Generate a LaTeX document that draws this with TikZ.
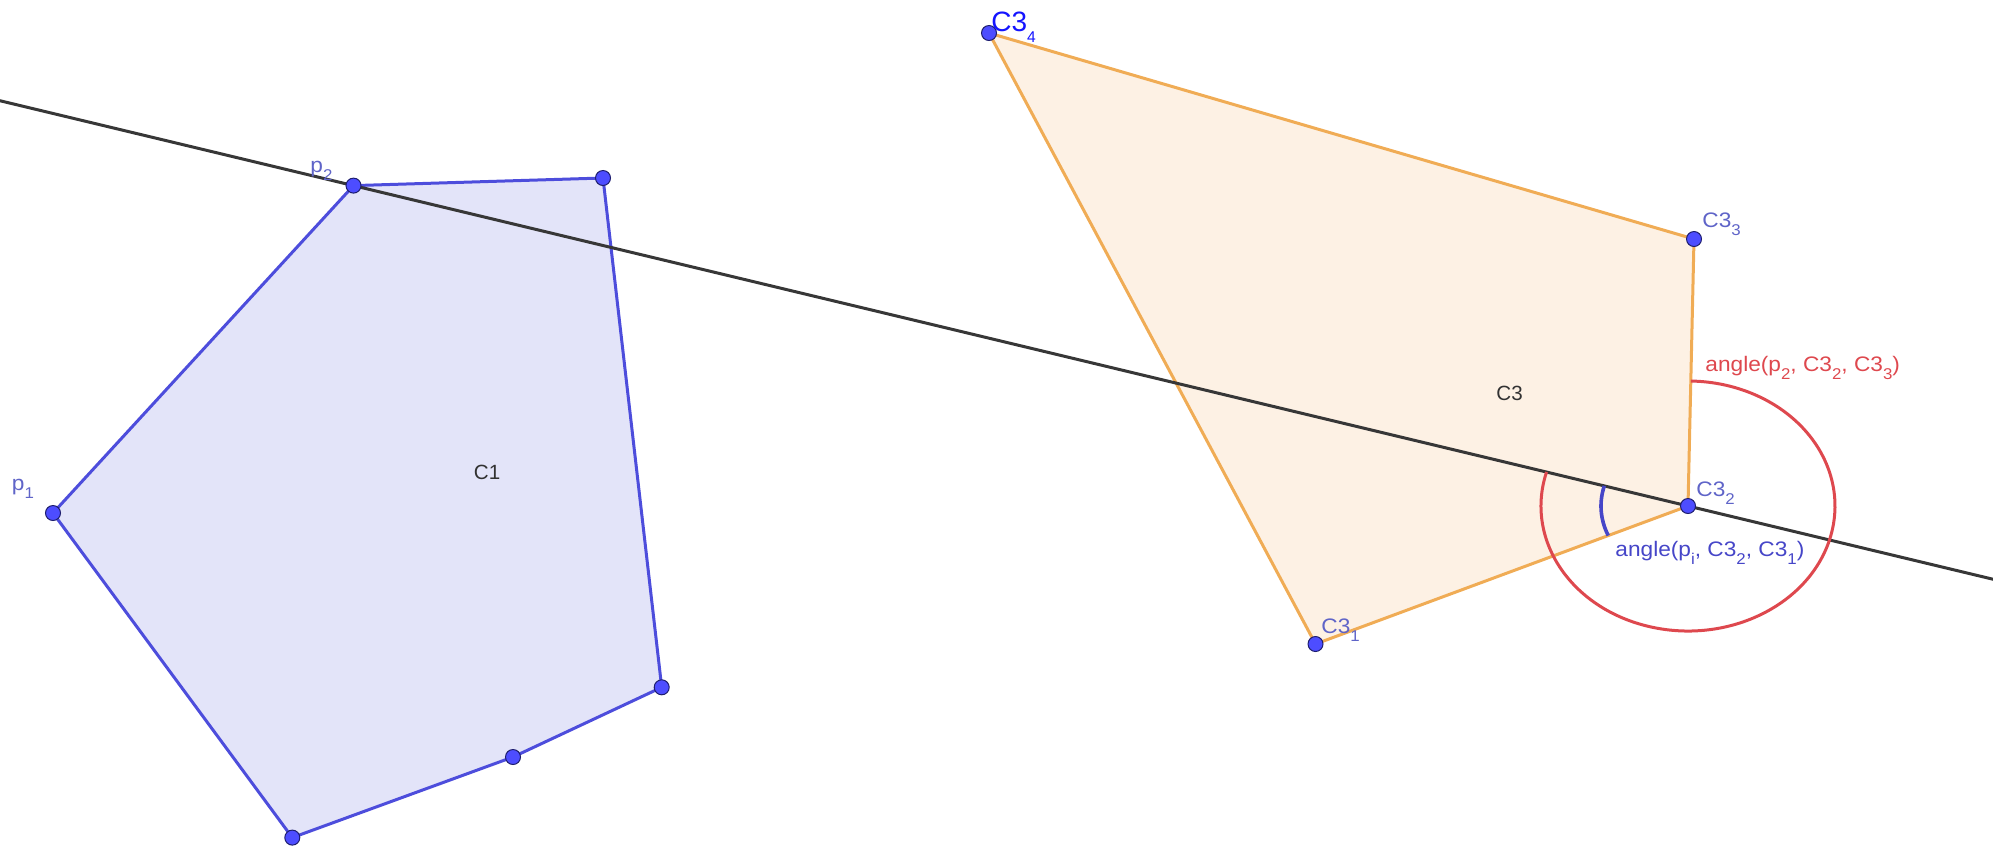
\documentclass[tikz,border=0pt]{standalone}
\usepackage{fontspec}
\setmainfont{Liberation Sans}
\usetikzlibrary{calc}
\definecolor{polyblue}{RGB}{77,77,220}
\definecolor{fillblue}{RGB}{227,228,249}
\definecolor{ptblue}{RGB}{77,77,255}
\definecolor{ptedge}{RGB}{30,30,110}
\definecolor{lblblue}{RGB}{95,100,200}
\definecolor{orangeline}{RGB}{240,172,85}
\definecolor{orangefill}{RGB}{253,241,228}
\definecolor{arcred}{RGB}{222,72,78}
\definecolor{arcblue}{RGB}{70,70,200}
\definecolor{linegray}{RGB}{55,55,55}
\definecolor{purelabel}{RGB}{20,20,255}
\definecolor{textgray}{RGB}{50,50,50}
\newcommand\lsub[1]{\raisebox{-4pt}{\fontsize{7.8}{8}\selectfont #1}}
\newcommand\bigsub[1]{\raisebox{-5.5pt}{\fontsize{7.8}{8}\selectfont #1}}
\begin{document}
\begin{tikzpicture}[x=0.5pt,y=-0.5pt,
  ptnode/.style={circle,fill=ptblue,draw=ptedge,line width=0.5pt,inner sep=0pt,minimum size=7.5pt},
  lbl/.style={font=\fontsize{10.5}{12}\selectfont,text=lblblue,inner sep=0pt,anchor=base west,xscale=1.08},
  polytext/.style={font=\fontsize{10.3}{12}\selectfont,text=textgray,inner sep=0pt,anchor=base west},
  polyC1/.style={draw=polyblue,fill=fillblue,line width=1.5pt,line join=round},
  polyC3/.style={draw=orangeline,fill=orangefill,line width=1.5pt,line join=round},
  mainline/.style={draw=linegray,line width=1.5pt},
  redarc/.style={draw=arcred,line width=1.5pt},
  bluearc/.style={draw=arcblue,line width=1.8pt}]
\useasboundingbox (0,0) rectangle (1993,848);
\clip (0,0) rectangle (1993,848);
% vertex positions
\coordinate (cp2) at (353.5,185.6);
\coordinate (cq3) at (603,178);
\coordinate (cq4) at (661.7,687.3);
\coordinate (cq5) at (513,757);
\coordinate (cq6) at (292.3,837.6);
\coordinate (cp1) at (53,513);
\coordinate (c34) at (989,33);
\coordinate (c33) at (1694,239);
\coordinate (c32) at (1688,506);
\coordinate (c31) at (1315.5,644);
% polygons
\draw[polyC3] (c34) -- (c33) -- (c32) -- (c31) -- cycle;
\draw[polyC1] (cp2) -- (cq3) -- (cq4) -- (cq5) -- (cq6) -- (cp1) -- cycle;
% line through p2 and C3_2
\coordinate (L0) at ($(cp2)!-0.3!(c32)$);
\coordinate (L1) at ($(cp2)!1.26!(c32)$);
\draw[mainline] (L0) -- (L1);
% angle arcs
\draw[redarc] ($(c32)+(164.2:73.5pt and 62.5pt)$) arc[start angle=164.2,end angle=448.9,x radius=73.5pt,y radius=62.5pt];
\draw[bluearc] ($(c32)+(164.2:43.5pt and 37pt)$) arc[start angle=164.2,end angle=203.5,x radius=43.5pt,y radius=37pt];
% points
\node[ptnode] (p2) at (cp2) {};
\node[ptnode] (q3) at (cq3) {};
\node[ptnode] (q4) at (cq4) {};
\node[ptnode] (q5) at (cq5) {};
\node[ptnode] (q6) at (cq6) {};
\node[ptnode] (p1) at (cp1) {};
\node[ptnode] (C34) at (c34) {};
\node[ptnode] (C33) at (c33) {};
\node[ptnode] (C32) at (c32) {};
\node[ptnode] (C31) at (c31) {};
% labels
\node[lbl] (lp2) at (310,172) {p\lsub{2}};
\node[lbl] (lp1) at (11.5,490) {p\lsub{1}};
\node[polytext] (lC1) at (473.5,479) {C1};
\node[polytext] (lC3) at (1496,400) {C3};
\node[lbl] (lC31) at (1321,633) {C3\lsub{1}};
\node[lbl] (lC32) at (1696,496) {C3\lsub{2}};
\node[lbl] (lC33) at (1702,227) {C3\lsub{3}};
\node[inner sep=0pt,anchor=base west,text=purelabel,font=\fontsize{14}{15}\selectfont] (lC34) at (991,31) {C3\bigsub{4}};
\node[lbl,text=arcred] (lred) at (1705,371) {angle(p\lsub{2}, C3\lsub{2}, C3\lsub{3})};
\node[lbl,text=arcblue] (lblue) at (1615,556) {angle(p\lsub{i}, C3\lsub{2}, C3\lsub{1})};
\end{tikzpicture}
\end{document}
